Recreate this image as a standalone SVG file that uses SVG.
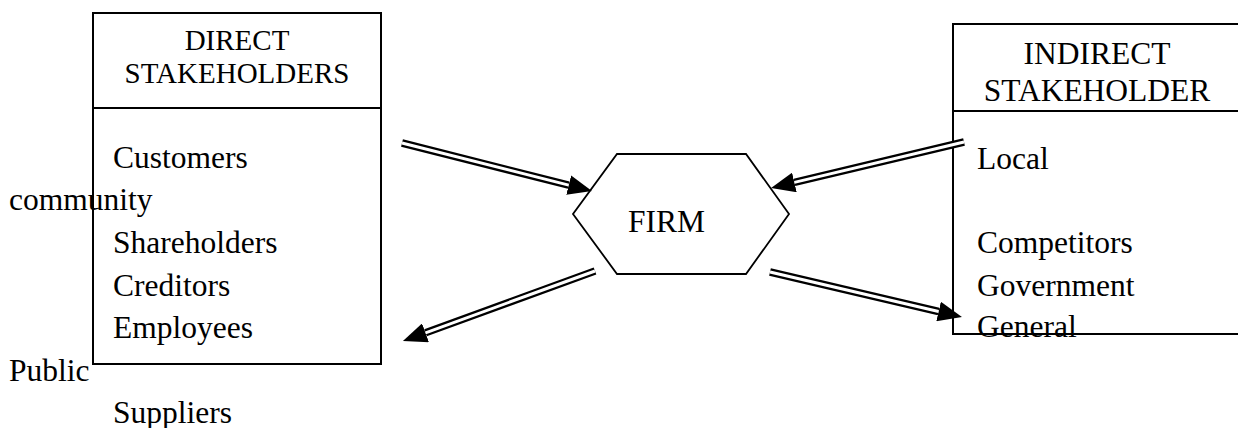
<svg xmlns="http://www.w3.org/2000/svg" width="1238" height="428" viewBox="0 0 1238 428">
  <style>
    text { font-family: "Liberation Serif", "Times New Roman", Times, serif; fill: #000; }
    .hd { font-size: 29px; text-anchor: middle; }
    .hd2 { font-size: 31.5px; text-anchor: middle; }
    .it { font-size: 31.5px; }
    .box { fill: none; stroke: #000; stroke-width: 2; }
    .hex { fill: #fff; stroke: #000; stroke-width: 1.8; }
    .rail { fill: none; stroke: #000; stroke-width: 7.5; marker-end: url(#head); }
    .gap { fill: none; stroke: #fff; stroke-width: 3; }
  </style>
  <defs>
    <marker id="head" markerUnits="userSpaceOnUse" viewBox="0 0 24 20" refX="0" refY="10" markerWidth="24" markerHeight="20" orient="auto">
      <path d="M0,0 L24,10 L0,20 z" fill="#000"/>
    </marker>
  </defs>
  <rect width="1238" height="428" fill="#fff"/>

  <!-- direct stakeholders -->
  <g id="direct">
    <rect class="box" x="93" y="13" width="288" height="351"/>
    <line class="box" x1="93" y1="108" x2="381" y2="108"/>
    <text class="hd" x="237" y="50">DIRECT</text>
    <text class="hd" x="237" y="83">STAKEHOLDERS</text>
    <text class="it" x="113" y="168">Customers</text>
    <text class="it" x="9" y="210">community</text>
    <text class="it" x="113" y="253">Shareholders</text>
    <text class="it" x="113" y="296">Creditors</text>
    <text class="it" x="113" y="338">Employees</text>
    <text class="it" x="9" y="381">Public</text>
    <text class="it" x="113" y="423">Suppliers</text>
  </g>

  <!-- indirect stakeholders -->
  <g id="indirect">
    <rect class="box" x="953" y="24" width="290" height="310"/>
    <line class="box" x1="953" y1="111" x2="1240" y2="111"/>
    <text class="hd2" x="1097" y="64">INDIRECT</text>
    <text class="hd2" x="1097" y="101">STAKEHOLDER</text>
    <text class="it" x="977" y="169">Local</text>
    <text class="it" x="977" y="253">Competitors</text>
    <text class="it" x="977" y="296">Government</text>
    <text class="it" x="977" y="337">General</text>
  </g>

  <!-- firm -->
  <g id="firm">
    <polygon class="hex" points="617,154 746,154 789,214 746,274 617,274 573,214"/>
    <text class="it" x="628" y="232">FIRM</text>
  </g>

  <!-- double-line arrows -->
  <g id="connectors">
    <path class="rail" d="M402,143 L568.7,185.1"/>
    <path class="gap" d="M402,143 L568.7,185.1"/>
    <path class="rail" d="M964,142 L794.4,182.4"/>
    <path class="gap" d="M964,142 L794.4,182.4"/>
    <path class="rail" d="M595,271 L425.5,332.8"/>
    <path class="gap" d="M595,271 L425.5,332.8"/>
    <path class="rail" d="M770,272 L938.6,311.5"/>
    <path class="gap" d="M770,272 L938.6,311.5"/>
  </g>
</svg>
